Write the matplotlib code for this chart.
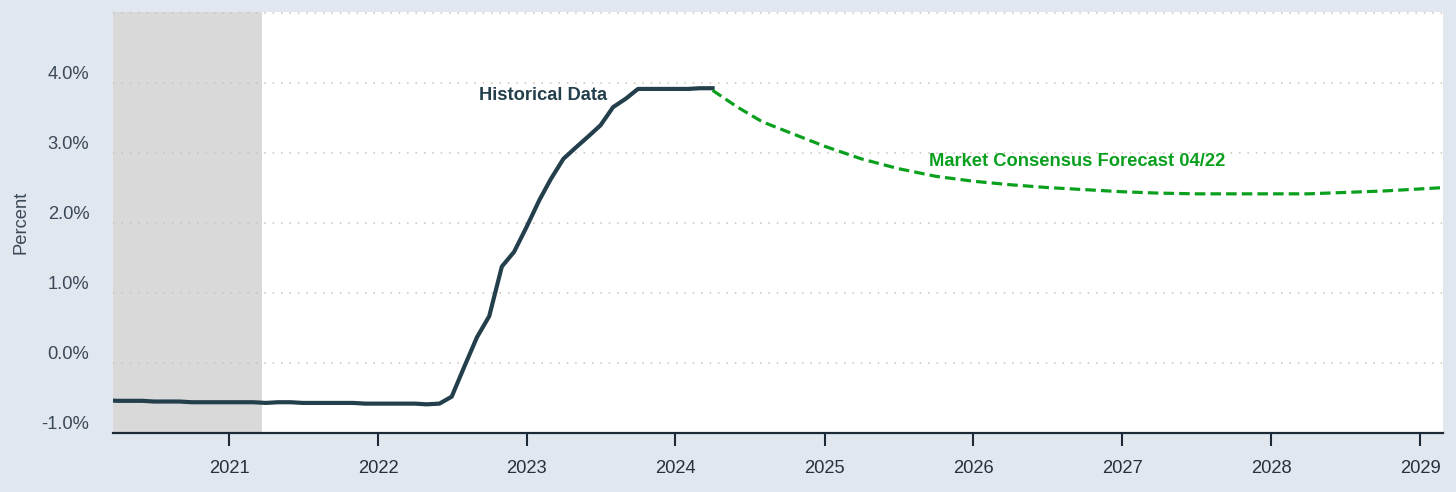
import pandas as pd
import matplotlib.pyplot as plt
import matplotlib.dates as mdates

plt.rcParams['font.family'] = ['Liberation Sans', 'DejaVu Sans']

# monthly history, Mar 2020 - Apr 2024
hist_dates = pd.date_range("2020-03-01", "2024-04-01", freq="MS")
hist_values = [
    -0.53, -0.54, -0.54, -0.54, -0.55, -0.55, -0.55, -0.56, -0.56, -0.56,
    -0.56, -0.56, -0.56, -0.57, -0.56, -0.56, -0.57, -0.57, -0.57, -0.57, -0.57, -0.58,
    -0.58, -0.58, -0.58, -0.58, -0.59, -0.58, -0.48, -0.05, 0.37, 0.67, 1.38, 1.59,
    1.95, 2.33, 2.63, 2.92, 3.08, 3.24, 3.40, 3.66, 3.78, 3.92, 3.92, 3.92,
    3.92, 3.92, 3.93, 3.93,
]

# market consensus forecast
fc_dates = pd.to_datetime([
    "2024-04-01", "2024-06-01", "2024-08-01", "2024-10-01",
    "2025-01-01", "2025-04-01", "2025-07-01", "2025-10-01",
    "2026-01-01", "2026-04-01", "2026-07-01", "2026-10-01",
    "2027-01-01", "2027-04-01", "2027-07-01", "2027-10-01",
    "2028-01-01", "2028-04-01", "2028-07-01", "2028-10-01",
    "2029-01-01", "2029-04-01",
])
fc_values = [
    3.90, 3.66, 3.45, 3.31,
    3.10, 2.92, 2.78, 2.67,
    2.60, 2.55, 2.51, 2.48,
    2.45, 2.43, 2.42, 2.42,
    2.42, 2.42, 2.44, 2.46,
    2.49, 2.52,
]

shade_start = pd.Timestamp("2020-01-01")
shade_end = pd.Timestamp("2021-03-23")

y_ticks = [-1, 0, 1, 2, 3, 4]
y_labels = ["-1.0%", "0.0%", "1.0%", "2.0%", "3.0%", "4.0%"]

bg = "#e1e7ef"
dark = "#233f4b"
green = "#0aa01e"
fs = 13.2

fig = plt.figure(figsize=(14.56, 4.92), dpi=100, facecolor=bg)
ax = fig.add_axes([113 / 1456, 59 / 492, 1330 / 1456, 421 / 492])
ax.set_facecolor("white")

ax.axvspan(shade_start, shade_end, color="#d9d9d9", lw=0, zorder=0)

for v in [0, 1, 2, 3, 4, 5]:
    ax.axhline(v, color="#cbc2b3", lw=1.1, linestyle=(0, (1, 4.5)), zorder=1)

ax.plot(hist_dates, hist_values, color=dark, lw=3, solid_joinstyle="round", zorder=3)
ax.plot(fc_dates, fc_values, color=green, lw=2.3, dashes=(3.3, 1.6), zorder=3)

ax.text(pd.Timestamp("2023-07-18"), 3.83, "Historical Data", color=dark,
        fontsize=fs, fontweight="bold", ha="right", va="center")
ax.text(pd.Timestamp("2025-09-13"), 2.88, "Market Consensus Forecast 04/22", color=green,
        fontsize=fs, fontweight="bold", ha="left", va="center")

ax.set_xlim(pd.Timestamp("2020-03-22"), pd.Timestamp("2029-02-26"))
ax.set_ylim(-1, 5.02)

ax.xaxis.set_major_locator(mdates.YearLocator())
ax.xaxis.set_major_formatter(mdates.DateFormatter("%Y"))
ax.tick_params(axis="x", length=9.5, width=1.5, color="#1c2a38", pad=10,
               labelsize=fs, labelcolor="#26313d")

ax.set_yticks(y_ticks)
ax.set_yticklabels(y_labels)
ax.tick_params(axis="y", length=0, pad=17, labelsize=fs, labelcolor="#3b4857")
for lbl in ax.get_yticklabels():
    lbl.set_verticalalignment("bottom")

ax.set_ylabel("Percent", fontsize=fs, color="#3b4857", labelpad=9)

for s in ["top", "right", "left"]:
    ax.spines[s].set_visible(False)
ax.spines["bottom"].set_color("#1c2a38")
ax.spines["bottom"].set_linewidth(1.6)

fig.savefig("out.png", dpi=100, facecolor=bg)
